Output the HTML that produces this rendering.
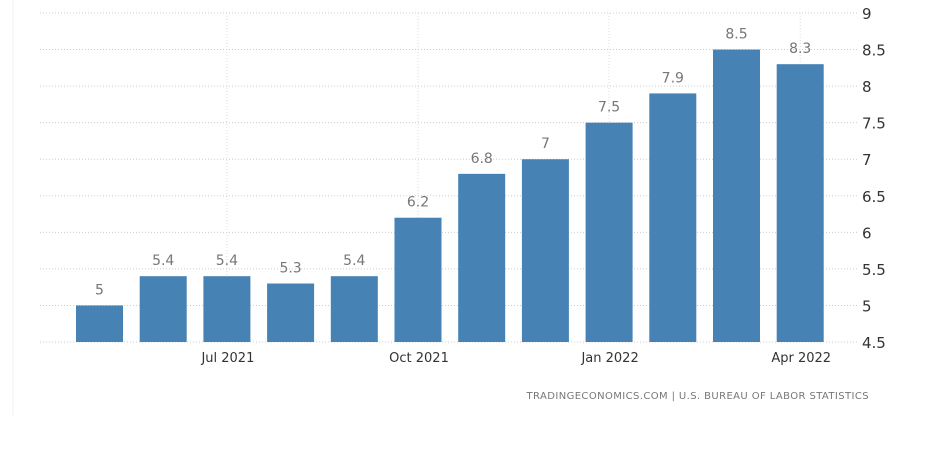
<!DOCTYPE html>
<html><head><meta charset="utf-8"><style>
body{margin:0;background:#fff;width:950px;height:463px;overflow:hidden;font-family:"DejaVu Sans","Liberation Sans",sans-serif}
</style></head><body>
<svg id="chart" width="950" height="463" xmlns="http://www.w3.org/2000/svg">
<line x1="13" y1="0" x2="13" y2="415" stroke="#f0f0f0" stroke-width="1"/>
<g id="grid"></g><g id="bars"></g><g id="labels"></g>
<text x="869" y="399" text-anchor="end" font-size="10" fill="#777" letter-spacing="0.4">TRADINGECONOMICS.COM | U.S. BUREAU OF LABOR STATISTICS</text>
</svg>
<script>
const categories=["May 2021","Jun 2021","Jul 2021","Aug 2021","Sep 2021","Oct 2021","Nov 2021","Dec 2021","Jan 2022","Feb 2022","Mar 2022","Apr 2022"];
const values=[5,5.4,5.4,5.3,5.4,6.2,6.8,7,7.5,7.9,8.5,8.3];
const valueLabels=["5","5.4","5.4","5.3","5.4","6.2","6.8","7","7.5","7.9","8.5","8.3"];
const yTicks=[4.5,5,5.5,6,6.5,7,7.5,8,8.5,9];
const xTickIdx=[2,5,8,11];
const xTickLabels=["Jul 2021","Oct 2021","Jan 2022","Apr 2022"];
const NS="http://www.w3.org/2000/svg";
const y0=342,yTop=13,vMin=4.5,vMax=9;
const y=v=>y0-(v-vMin)/(vMax-vMin)*(y0-yTop);
const step=63.7,first=99.5,bw=47;
const x=i=>first+i*step;
function mk(tag,attrs,parent){const e=document.createElementNS(NS,tag);for(const k in attrs)e.setAttribute(k,attrs[k]);parent.appendChild(e);return e;}
const grid=document.getElementById('grid'),bars=document.getElementById('bars'),labels=document.getElementById('labels');
yTicks.forEach(t=>{
 const l=mk('line',{x1:40,x2:858,y1:y(t),y2:y(t),stroke:'#ccc','stroke-dasharray':'1,2'},grid);
 
 
 const tx=mk('text',{x:862,y:y(t)+6,'font-size':15,fill:'#333'},labels);
 tx.textContent=String(t);
 
 
});
xTickIdx.forEach((i,k)=>{
 const l=mk('line',{x1:x(i),x2:x(i),y1:yTop,y2:y0,stroke:'#ddd','stroke-dasharray':'1,2'},grid);
 
 
 const tx=mk('text',{x:x(i)+1,y:362,'text-anchor':'middle','font-size':13,fill:'#333'},labels);
 tx.textContent=xTickLabels[k];
 
 
});
values.forEach((v,i)=>{
 const r=mk('rect',{x:x(i)-bw/2,y:y(v),width:bw,height:y0-y(v),fill:'#4682b4'},bars);
 
 
 const tx=mk('text',{x:x(i),y:y(v)-11,'text-anchor':'middle','font-size':14,fill:'#777'},labels);
 tx.textContent=valueLabels[i];
 
 
});
</script>
</body></html>
